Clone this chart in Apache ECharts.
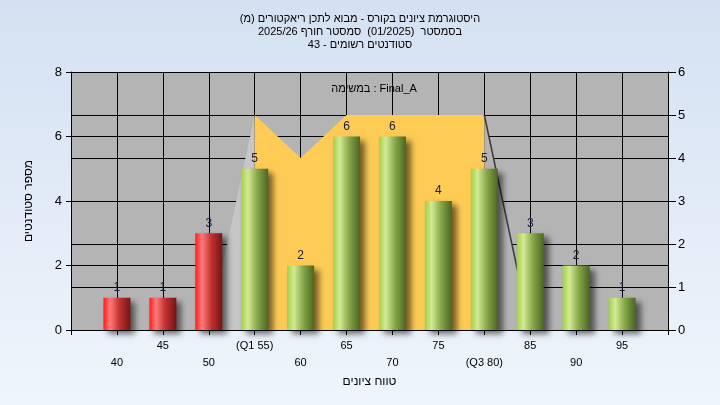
<!DOCTYPE html>
<html>
<head>
<meta charset="utf-8">
<script src="https://cdn.jsdelivr.net/npm/echarts@6/dist/echarts.min.js"></script>
<style>
html,body{margin:0;padding:0;}
#chart{width:720px;height:405px;}
</style>
</head>
<body>
<div id="chart"></div>
<script>
// ---- data ----
const categories = [40, 45, 50, 55, 60, 65, 70, 75, 80, 85, 90, 95];
const tickLabels = ['40', '45', '50', '(Q1 55)', '60', '65', '70', '75', '(Q3 80)', '85', '90', '95'];
const counts = [1, 1, 3, 5, 2, 6, 6, 4, 5, 3, 2, 1];
const failLimit = 50; // bars up to this grade are red
const bandX = [55, 60, 65, 70, 75, 80];
const bandY = [5, 4, 5, 5, 5, 5];
const leftSlopeX = [50, 55];
const leftSlopeY = [0, 5];
const rightSlopeX = [80, 85];
const rightSlopeY = [5, 0];
const titleLines = [
  'היסטוגרמת ציונים בקורס - מבוא לתכן ריאקטורים (מ)',
  'בסמסטר  (01/2025)  סמסטר חורף 2025/26',
  'סטודנטים רשומים - 43'
];
const legendText = 'במשימה : Final_A';
const xTitle = 'טווח ציונים';
const yTitle = 'מספר סטודנטים';

const FONT = 'Liberation Sans, DejaVu Sans, Arial, sans-serif';

const redGrad = new echarts.graphic.LinearGradient(0, 0, 1, 0, [
  {offset: 0, color: '#ff1c1c'},
  {offset: 0.25, color: '#ff7a7a'},
  {offset: 0.6, color: '#c03030'},
  {offset: 1, color: '#761414'}
]);
const greenGrad = new echarts.graphic.LinearGradient(0, 0, 1, 0, [
  {offset: 0, color: '#a2d046'},
  {offset: 0.25, color: '#d2ea94'},
  {offset: 0.6, color: '#86a648'},
  {offset: 1, color: '#4a6622'}
]);

const barData = categories.map((c, i) => ({
  value: [c, counts[i]],
  itemStyle: {color: c <= failLimit ? redGrad : greenGrad}
}));

const chart = echarts.init(document.getElementById('chart'), null, {renderer: 'canvas'});
chart.setOption({
  animation: false,
  backgroundColor: new echarts.graphic.LinearGradient(0, 0, 0, 1, [
    {offset: 0, color: '#d4e1f2'},
    {offset: 1, color: '#eff5fc'}
  ]),
  title: [
    {
      text: titleLines.join('\n'),
      left: 'center',
      top: 7,
      textStyle: {fontFamily: FONT, fontSize: 11, fontWeight: 'normal', color: '#000', lineHeight: 13}
    },
    {
      text: legendText,
      left: 369,
      top: 78,
      textAlign: 'center',
      textStyle: {fontFamily: FONT, fontSize: 11, fontWeight: 'normal', color: '#000'}
    }
  ],
  grid: {
    left: 71, right: 52, top: 72, bottom: 75,
    show: true, backgroundColor: '#b4b4b4', borderWidth: 0
  },
  xAxis: {
    type: 'value',
    min: 35, max: 100, interval: 5,
    name: xTitle,
    nameLocation: 'middle',
    nameGap: 45,
    nameTextStyle: {fontFamily: FONT, fontSize: 12, color: '#000'},
    axisLine: {show: true, lineStyle: {color: '#000', width: 1}},
    axisTick: {show: true, length: 5, lineStyle: {color: '#000'}},
    splitLine: {show: true, lineStyle: {color: '#000', width: 1}},
    axisLabel: {
      fontFamily: FONT, fontSize: 11, color: '#000', margin: 7, lineHeight: 17,
      formatter: function (v) {
        const i = categories.indexOf(v);
        if (i < 0) return '';
        return i % 2 === 0 ? '\n' + tickLabels[i] : tickLabels[i];
      }
    }
  },
  yAxis: [
    {
      type: 'value', min: 0, max: 8, interval: 2,
      position: 'left',
      name: yTitle,
      nameLocation: 'middle',
      nameGap: 36,
      nameRotate: 90,
      nameTextStyle: {fontFamily: FONT, fontSize: 12, color: '#000'},
      axisLine: {show: true, lineStyle: {color: '#000'}},
      axisTick: {show: true, length: 5, lineStyle: {color: '#000'}},
      splitLine: {show: true, lineStyle: {color: '#000', width: 1}},
      axisLabel: {fontFamily: FONT, fontSize: 13, color: '#000', margin: 9}
    },
    {
      type: 'value', min: 0, max: 6, interval: 1,
      position: 'right',
      axisLine: {show: true, lineStyle: {color: '#000'}},
      axisTick: {show: true, length: 8, lineStyle: {color: '#000'}},
      splitLine: {show: true, lineStyle: {color: '#000', width: 1}},
      axisLabel: {fontFamily: FONT, fontSize: 13, color: '#000', margin: 10}
    }
  ],
  series: [
    {
      type: 'line', yAxisIndex: 1, z: 1,
      data: leftSlopeX.map((x, i) => [x, leftSlopeY[i]]),
      symbol: 'none',
      lineStyle: {width: 0},
      areaStyle: {color: '#c6c6c6', opacity: 1}
    },
    {
      type: 'line', yAxisIndex: 1, z: 1,
      data: rightSlopeX.map((x, i) => [x, rightSlopeY[i]]),
      symbol: 'none',
      lineStyle: {width: 1.5, color: '#3a3a3a'},
      areaStyle: {color: '#b4b4b4', opacity: 1}
    },
    {
      type: 'line', yAxisIndex: 1, z: 1,
      data: bandX.map((x, i) => [x, bandY[i]]),
      symbol: 'none',
      lineStyle: {width: 0},
      areaStyle: {color: '#fecb55', opacity: 1}
    },
    {
      type: 'bar', yAxisIndex: 0, z: 3,
      data: barData,
      barWidth: 27,
      itemStyle: {
        shadowColor: 'rgba(0,0,0,0.55)',
        shadowBlur: 6,
        shadowOffsetX: 5,
        shadowOffsetY: 4
      },
      label: {
        show: true, position: 'top', distance: 4,
        fontFamily: FONT, fontSize: 12, color: '#1a1a3a',
        formatter: function (p) { return p.value[1]; }
      }
    }
  ]
});
</script>
</body>
</html>
